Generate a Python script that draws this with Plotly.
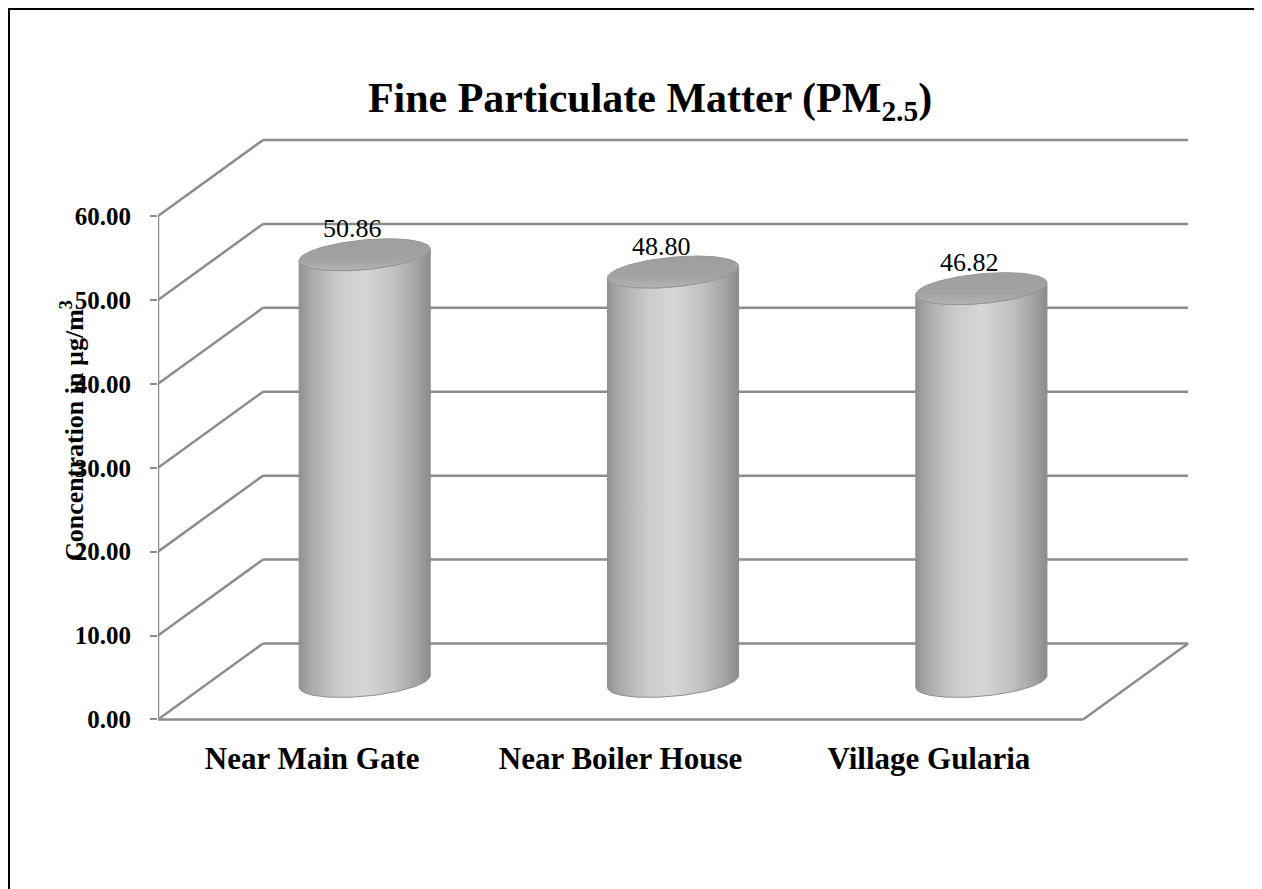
import numpy as np
import plotly.graph_objects as go

# ---------------- data ----------------
categories = ["Near Main Gate", "Near Boiler House", "Village Gularia"]
pm25_values = [50.86, 48.80, 46.82]
tick_values = [0, 10, 20, 30, 40, 50, 60]
tick_labels = ["0.00", "10.00", "20.00", "30.00", "40.00", "50.00", "60.00"]
value_labels = ["50.86", "48.80", "46.82"]
chart_title = "Fine Particulate Matter (PM<sub>2.5</sub>)"
y_title = "Concentration in µg/m<sup>3</sup>"

# ---------------- geometry / style ----------------
OFF = 8                       # page body margin
W, H = 1262 - OFF, 889 - OFF
PW, PH = 1033, 604            # plot area size
ML, MT = 158 - OFF, 128 - OFF
MR, MB = W - ML - PW, H - MT - PH
XR = [-0.5, 2.85]
YR = [-1.5, 70.5]
pxx = PW / (XR[1] - XR[0])    # pixels per category unit
pxy = PH / (YR[1] - YR[0])    # pixels per value unit
DX = 105 / pxx                # depth offset (x)
DY = 76 / pxy                 # depth offset (y)
RX, SX, VY = 61 / pxx, 24 / pxx, 16 / pxy  # cylinder ellipse params
GRID = "#8c8c8c"
FONT = "Liberation Serif"

n = len(categories)
x_left, x_right = -0.5, n - 0.5
ymax = tick_values[-1]

fig = go.Figure()
shapes = []
for v in tick_values:
    shapes.append(dict(type="line", xref="x", yref="y", layer="below",
                       x0=x_left + DX, y0=v + DY, x1=x_right + DX, y1=v + DY,
                       line=dict(color=GRID, width=2.5)))
    shapes.append(dict(type="line", xref="x", yref="y", layer="below",
                       x0=x_left, y0=v, x1=x_left + DX, y1=v + DY,
                       line=dict(color=GRID, width=2.5)))
shapes.append(dict(type="line", xref="x", yref="y", layer="below",
                   x0=x_left, y0=0, x1=x_right, y1=0, line=dict(color=GRID, width=2.5)))
shapes.append(dict(type="line", xref="x", yref="y", layer="below",
                   x0=x_right, y0=0, x1=x_right + DX, y1=DY, line=dict(color=GRID, width=2.5)))
shapes.append(dict(type="line", xref="x", yref="y", layer="below",
                   x0=x_left, y0=0, x1=x_left, y1=ymax, line=dict(color=GRID, width=2.5)))
# outer frame (page pixels 9..1256, top 9, bottom beyond page)
shapes.append(dict(type="rect", xref="paper", yref="paper",
                   x0=(9 - OFF - ML) / PW, x1=(1256 - OFF - ML) / PW,
                   y0=(H - MB - 930) / PH, y1=(H - MB - (9 - OFF)) / PH,
                   line=dict(color="black", width=2), layer="above"))

theta_r = np.arctan2(SX, RX)
front = np.linspace(theta_r + np.pi, theta_r + 2 * np.pi, 60)
full = np.linspace(0, 2 * np.pi, 120)


def ell(cx, cy, th):
    return cx + RX * np.cos(th) + SX * np.sin(th), cy + VY * np.sin(th)


annotations = []
for i, (cat, val, lab) in enumerate(zip(categories, pm25_values, value_labels)):
    cx = i + DX / 2
    cb = DY / 2
    ct = val + DY / 2
    bx, by = ell(cx, cb, front)
    tx, ty = ell(cx, ct, front[::-1])
    body_x = np.concatenate([bx, tx, bx[:1]])
    body_y = np.concatenate([by, ty, by[:1]])
    fig.add_trace(go.Scatter(
        x=body_x, y=body_y, mode="lines", fill="toself",
        line=dict(color="#8e8e8e", width=1),
        fillgradient=dict(type="horizontal", colorscale=[
            [0.0, "#909090"], [0.08, "#a8a8a8"], [0.3, "#cbcbcb"],
            [0.5, "#d6d6d6"], [0.72, "#c2c2c2"], [0.9, "#a3a3a3"], [1.0, "#8c8c8c"]]),
        hoverinfo="skip", showlegend=False))
    ex, ey = ell(cx, ct, full)
    fig.add_trace(go.Scatter(
        x=ex, y=ey, mode="lines", fill="toself",
        line=dict(color="#979797", width=1),
        fillgradient=dict(type="vertical", colorscale=[
            [0.0, "#b3b3b3"], [0.35, "#a3a3a3"], [1.0, "#9e9e9e"]]),
        hoverinfo="skip", showlegend=False))
    annotations.append(dict(x=cx, y=ct + VY, xref="x", yref="y", text=lab,
                            showarrow=False, xanchor="center", yanchor="middle",
                            yshift=10, xshift=-12,
                            font=dict(family=FONT, size=26, color="black")))

annotations.append(dict(xref="paper", yref="paper", x=0, y=(H - MB - (431 - OFF)) / PH,
                        xshift=72 - 158, xanchor="center", yanchor="middle",
                        text=y_title, textangle=-90, showarrow=False,
                        font=dict(family=FONT, size=26, color="black", weight="bold")))

fig.update_layout(
    width=W, height=H,
    margin=dict(l=ML, r=MR, t=MT, b=MB, autoexpand=False),
    paper_bgcolor="white", plot_bgcolor="white",
    title=dict(text=chart_title, x=(650 - OFF) / W, xanchor="center",
               y=1 - (97 - OFF) / H, yanchor="middle",
               font=dict(family=FONT, size=42, color="black", weight="bold")),
    xaxis=dict(range=XR, tickvals=list(range(n)), ticktext=categories,
               showgrid=False, zeroline=False, showline=False, ticks="",
               ticklabelstandoff=5,
               tickfont=dict(family=FONT, size=31, color="black", weight="bold")),
    yaxis=dict(range=YR, tickvals=tick_values, ticktext=tick_labels,
               showgrid=False, zeroline=False, showline=False,
               ticks="outside", ticklen=7, tickwidth=2, tickcolor=GRID,
               ticklabelstandoff=14,
               tickfont=dict(family=FONT, size=25, color="black", weight="bold")),
    shapes=shapes, annotations=annotations, showlegend=False,
)

fig.write_html("out.html")
